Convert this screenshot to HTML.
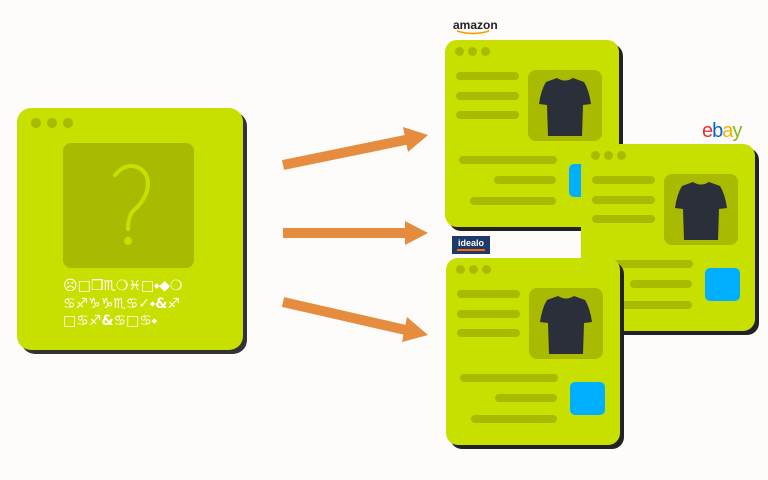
<!DOCTYPE html>
<html><head><meta charset="utf-8"><style>
body{margin:0;width:768px;height:480px;background:#fdfcfa;position:relative;overflow:hidden;font-family:"Liberation Sans",sans-serif}
.a{position:absolute}
.card{position:absolute;width:174px;height:187px;background:#c8e000;border-radius:12px;box-shadow:4px 4px 0 #222}
.d{position:absolute;top:7px;width:9px;height:9px;border-radius:50%;background:#a8bb00}
.l{position:absolute;height:8px;border-radius:4px;background:#a8bb00}
.img{position:absolute;left:83px;top:30px;width:74px;height:71px;border-radius:8px;background:#a8bb00}
.b{position:absolute;left:124px;top:124px;width:35px;height:33px;border-radius:5px;background:#00b0ff}
.img svg{position:absolute;left:11px;top:6px}
</style></head><body>
<div class="a" style="left:17px;top:108px;width:226px;height:242px;background:#c8e000;border-radius:14px;box-shadow:4px 4px 0 #333">
 <div class="d" style="left:14px;top:10px;width:10px;height:10px"></div><div class="d" style="left:30px;top:10px;width:10px;height:10px"></div><div class="d" style="left:46px;top:10px;width:10px;height:10px"></div>
 <div class="a" style="left:46px;top:35px;width:131px;height:125px;background:#a8bb00;border-radius:8px"></div>
 <svg class="a" style="left:46px;top:35px" width="131" height="125"><path d="M52 32 Q62 20 74 24 Q88 30 84 48 Q80 60 70 68 Q65 74 65 86" stroke="#c8e000" stroke-width="4" fill="none" stroke-linecap="round"/><circle cx="65" cy="98" r="4" fill="#c8e000"/></svg>
 <div class="a" style="left:46px;top:170px;color:#fff;font-size:14px;line-height:17.5px;font-weight:bold;font-family:'DejaVu Sans',sans-serif;white-space:nowrap">☹□❒♏❍♓□⬩◆❍<br>♋♐♑♑♏♋✓⬩&amp;♐<br>□♋♐&amp;♋□♋⬩</div>
</div>
<svg class="a" style="left:0;top:0" width="768" height="480">
<g stroke="#e58c3e" stroke-width="10" fill="#e58c3e">
<line x1="283" y1="165" x2="410" y2="139"/><line x1="283" y1="233" x2="410" y2="233"/><line x1="283" y1="302" x2="410" y2="331"/>
</g>
<g fill="#e58c3e" stroke="none">
<polygon points="428,135 403,127 408,152"/><polygon points="428,233 405,221 405,245"/><polygon points="428,335 407,317 402,342"/>
</g>
</svg>
<div class="a" style="left:453px;top:18px;font-size:12px;font-weight:bold;color:#222">amazon</div>
<svg class="a" style="left:455px;top:30px" width="40" height="6"><path d="M2 1 Q18 6 34 1" stroke="#f90" stroke-width="1.5" fill="none"/></svg>
<div class="a" style="left:702px;top:120px;font-size:20px;letter-spacing:-1px"><span style="color:#e53238">e</span><span style="color:#0064d2">b</span><span style="color:#f5af02">a</span><span style="color:#86b817">y</span></div>
<div class="a" style="left:452px;top:236px;width:38px;height:18px;background:#1e3a6b;color:#fff;font-size:9px;font-weight:bold;text-align:center;line-height:15px">idealo<div style="position:absolute;left:5px;right:5px;top:13px;height:2px;background:#f60"></div></div>
<div class="card" style="left:445px;top:40px">
<div class="d" style="left:10px"></div><div class="d" style="left:23px"></div><div class="d" style="left:36px"></div>
<div class="l" style="left:11px;top:32px;width:63px"></div><div class="l" style="left:11px;top:52px;width:63px"></div><div class="l" style="left:11px;top:71px;width:63px"></div>
<div class="img"><svg width="52" height="62" viewBox="0 0 52 62"><path d="M18 2 Q26 7 34 2 L45 6 Q50 14 52 28 L44 29 L43 60 L9 60 L8 29 L0 28 Q2 14 7 6Z" fill="#2a2f3a"/></svg></div>
<div class="l" style="left:14px;top:116px;width:98px"></div><div class="l" style="left:49px;top:136px;width:62px"></div><div class="l" style="left:25px;top:157px;width:86px"></div>
<div class="b"></div></div>
<div class="card" style="left:581px;top:144px">
<div class="d" style="left:10px"></div><div class="d" style="left:23px"></div><div class="d" style="left:36px"></div>
<div class="l" style="left:11px;top:32px;width:63px"></div><div class="l" style="left:11px;top:52px;width:63px"></div><div class="l" style="left:11px;top:71px;width:63px"></div>
<div class="img"><svg width="52" height="62" viewBox="0 0 52 62"><path d="M18 2 Q26 7 34 2 L45 6 Q50 14 52 28 L44 29 L43 60 L9 60 L8 29 L0 28 Q2 14 7 6Z" fill="#2a2f3a"/></svg></div>
<div class="l" style="left:14px;top:116px;width:98px"></div><div class="l" style="left:49px;top:136px;width:62px"></div><div class="l" style="left:25px;top:157px;width:86px"></div>
<div class="b"></div></div>
<div class="card" style="left:446px;top:258px">
<div class="d" style="left:10px"></div><div class="d" style="left:23px"></div><div class="d" style="left:36px"></div>
<div class="l" style="left:11px;top:32px;width:63px"></div><div class="l" style="left:11px;top:52px;width:63px"></div><div class="l" style="left:11px;top:71px;width:63px"></div>
<div class="img"><svg width="52" height="62" viewBox="0 0 52 62"><path d="M18 2 Q26 7 34 2 L45 6 Q50 14 52 28 L44 29 L43 60 L9 60 L8 29 L0 28 Q2 14 7 6Z" fill="#2a2f3a"/></svg></div>
<div class="l" style="left:14px;top:116px;width:98px"></div><div class="l" style="left:49px;top:136px;width:62px"></div><div class="l" style="left:25px;top:157px;width:86px"></div>
<div class="b"></div></div>
</body></html>
